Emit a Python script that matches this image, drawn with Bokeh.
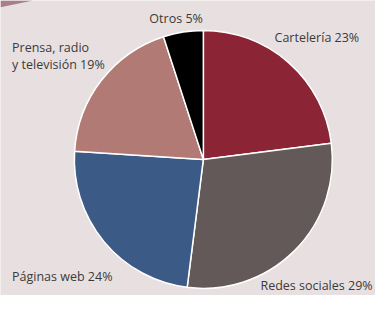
import numpy as np
from bokeh.plotting import figure
from bokeh.models import Range1d, ColumnDataSource
from bokeh.core.properties import value
from bokeh.embed import file_html
from bokeh.resources import INLINE

categories = ["Cartelería", "Redes sociales", "Páginas web", "Prensa, radio\ny televisión", "Otros"]
shares = [23, 29, 24, 19, 5]
colors = ["#8b2535", "#625958", "#3c5a86", "#b27a74", "#000000"]

BG = "#e8e0e0"
W, H = 375, 295
REF_W, REF_H = 391, 311
p = figure(width=W, height=H, output_backend="svg", toolbar_location=None,
           x_range=Range1d(0, REF_W), y_range=Range1d(0, REF_H),
           x_axis_location=None, y_axis_location=None, min_border=0)
p.grid.visible = False
p.outline_line_color = None
p.background_fill_color = BG
p.border_fill_color = BG

# decorative band in the top-left corner
p.patch(x=[0, 34, 0], y=[REF_H, REF_H, REF_H - 7], fill_color="#a77f89", line_color=None)

frac = np.array(shares, dtype=float) / sum(shares)
cum = np.concatenate([[0], np.cumsum(frac)])
start = np.pi / 2 - 2 * np.pi * cum[:-1]
end = np.pi / 2 - 2 * np.pi * cum[1:]

cx, cy, r = 211.5, REF_H - 167.5, 134.5
src = ColumnDataSource(dict(start=start, end=end, color=colors))
p.wedge(x=cx, y=cy, radius=r, start_angle="start", end_angle="end", direction="clock",
        fill_color="color", line_color="white", line_width=1.5, source=src)

labels = [f"{c} {s}%" for c, s in zip(categories, shares)]
# label anchor positions (reference pixel coordinates) and alignment
lx = [374, 388, 12, 12, 211]
ly = [30, 292, 282, 41, 10]
la = ["right", "right", "left", "left", "right"]
lsrc = ColumnDataSource(dict(x=lx, y=[REF_H - v for v in ly], text=labels, align=la))
p.text(x="x", y="y", text="text", text_align="align", text_baseline="top",
       text_font=value("Open Sans"), text_font_size="12.5px", text_color="#3a3a3a",
       text_line_height=1.0, source=lsrc)

open("out.html", "w").write(file_html(p, INLINE))
